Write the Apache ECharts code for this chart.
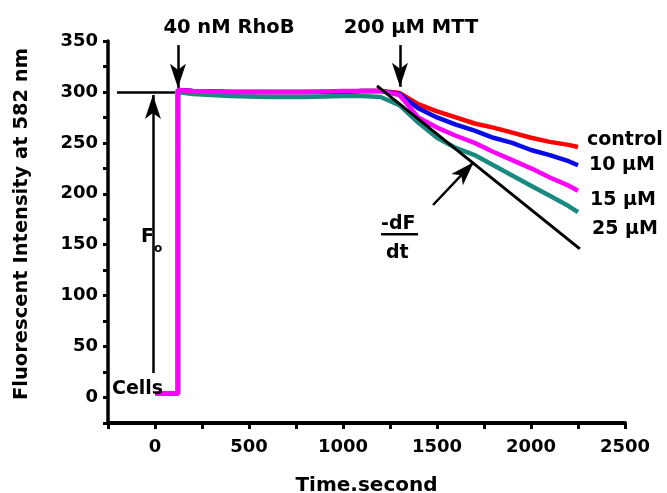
<!DOCTYPE html>
<html>
<head>
<meta charset="utf-8">
<script src="https://cdn.jsdelivr.net/npm/echarts@6.0.0/dist/echarts.min.js"></script>
<style>
html,body{margin:0;padding:0;background:#fff;}
#chart{width:667px;height:493px;}
</style>
</head>
<body>
<div id="chart"></div>
<script>
// ---- data ----
var timeSec = [0, 122, 122, 200, 400, 600, 800, 1000, 1100, 1200, 1300, 1400, 1500, 1600, 1700, 1800, 1900, 2000, 2100, 2200, 2250];
var controlVals = [4, 4, 302, 301, 300, 300, 300, 300, 301, 301, 299, 288, 281, 275, 269, 265, 260, 255, 251, 248, 246];
var uM10Vals    = [4, 4, 302, 301, 300, 300, 300, 300, 301, 301, 298, 284, 275, 268, 262, 255, 250, 243, 238, 232, 228];
var uM25Vals    = [4, 4, 300, 298, 296, 295, 295, 296, 296, 295, 287, 270, 255, 245, 238, 228, 218, 208, 198, 188, 182];
var uM15Vals    = [4, 4, 302, 301, 300, 300, 300, 301, 301, 301, 297, 275, 265, 257, 250, 241, 233, 225, 216, 208, 203];
var slopeX = [1181, 2260];
var slopeY = [306, 146];
var seriesNames = ['control', '10 µM', '25 µM', '15 µM'];
var xTicks = [0, 500, 1000, 1500, 2000, 2500];
var yTicks = [0, 50, 100, 150, 200, 250, 300, 350];
// annotation anchors (data coordinates)
var f0Line = [[-202, 300], [106, 300]];
var f0Arrow = [[-11, 24], [-11, 297]];
var rhoBArrow = [[122, 346], [122, 304]];
var mttArrow = [[1303, 346], [1303, 305]];
var slopeArrow = [[1479, 189], [1695, 231]];

function pairs(xs, ys) { return xs.map(function (x, i) { return [x, ys[i]]; }); }

var FONT = '"DejaVu Sans", "Liberation Sans", Arial, sans-serif';
var chart = echarts.init(document.getElementById('chart'), null, {renderer: 'canvas'});

function lineSeries(name, vals, color, z) {
  return {
    name: name, type: 'line', data: pairs(timeSec, vals), showSymbol: false, symbol: 'none',
    lineStyle: {color: color, width: 4.5}, itemStyle: {color: color}, z: z, silent: true
  };
}

function arrow(seg) {
  return [{coord: seg[0], symbol: 'none'}, {coord: seg[1], symbol: 'arrow', symbolSize: [12, 24]}];
}

var option = {
  animation: false,
  backgroundColor: '#ffffff',
  grid: {left: 108, right: 42, top: 41, bottom: 70, containLabel: false, outerBoundsMode: 'none'},
  xAxis: {
    type: 'value', min: -250, max: 2500, interval: 250,
    name: 'Time.second', nameLocation: 'middle', nameGap: 53,
    nameTextStyle: {fontFamily: FONT, fontWeight: 'bold', fontSize: 20, color: '#000'},
    axisLine: {onZero: false, lineStyle: {color: '#000', width: 4}},
    axisTick: {inside: false, length: 6, lineStyle: {color: '#000', width: 3}},
    axisLabel: {
      fontFamily: FONT, fontWeight: 'bold', fontSize: 18, color: '#000', margin: 15,
      formatter: function (v) { return xTicks.indexOf(v) >= 0 ? String(v) : ''; }
    },
    splitLine: {show: false}
  },
  yAxis: {
    type: 'value', min: -25, max: 350, interval: 25,
    axisLine: {onZero: false, lineStyle: {color: '#000', width: 3.5}},
    axisTick: {inside: false, length: 5, lineStyle: {color: '#000', width: 3}},
    axisLabel: {
      fontFamily: FONT, fontWeight: 'bold', fontSize: 18, color: '#000', margin: 10,
      formatter: function (v) { return yTicks.indexOf(v) >= 0 ? String(v) : ''; }
    },
    splitLine: {show: false}
  },
  series: [
    lineSeries(seriesNames[0], controlVals, '#ff0000', 2),
    lineSeries(seriesNames[1], uM10Vals, '#0a0ae6', 3),
    lineSeries(seriesNames[2], uM25Vals, '#1a8a80', 4),
    lineSeries(seriesNames[3], uM15Vals, '#ff00ff', 5),
    {
      name: 'slope', type: 'line', data: pairs(slopeX, slopeY), showSymbol: false, symbol: 'none',
      lineStyle: {color: '#000', width: 3}, z: 6, silent: true,
      markLine: {
        silent: true, animation: false,
        label: {show: false},
        lineStyle: {color: '#000', width: 2.5, type: 'solid'},
        symbol: ['none', 'arrow'],
        data: [
          [{coord: f0Line[0], symbol: 'none'}, {coord: f0Line[1], symbol: 'none'}],
          arrow(f0Arrow), arrow(rhoBArrow), arrow(mttArrow), arrow(slopeArrow)
        ]
      }
    }
  ],
  graphic: (function () {
    var tf = 'bold 19px ' + FONT;
    function t(x, y, txt, align, font) {
      return {type: 'text', x: x, y: y, silent: true, z: 100,
        style: {text: txt, font: font || tf, fill: '#000', textAlign: align || 'left', textVerticalAlign: 'middle'}};
    }
    var yTitle = t(22, 224, 'Fluorescent Intensity at 582 nm', 'center', 'bold 19.5px ' + FONT);
    yTitle.rotation = Math.PI / 2;
    return [
      yTitle,
      t(229, 28, '40 nM RhoB', 'center', 'bold 19.5px ' + FONT),
      t(411, 28, '200 µM MTT', 'center', 'bold 19.5px ' + FONT),
      t(587, 140, 'control', 'left', 'bold 19px ' + FONT),
      t(589, 165, '10 µM', 'left', 'bold 19px ' + FONT),
      t(590, 200, '15 µM', 'left', 'bold 19px ' + FONT),
      t(592, 229, '25 µM', 'left', 'bold 19px ' + FONT),
      t(381, 224, '-dF', 'left', 'bold 19px ' + FONT),
      {type: 'rect', shape: {x: 381, y: 233, width: 37, height: 2.5}, style: {fill: '#000'}, silent: true, z: 100},
      t(386, 253, 'dt', 'left', 'bold 19px ' + FONT),
      t(112, 389, 'Cells', 'left', 'bold 19px ' + FONT),
      t(141, 237, 'F', 'left', 'bold 19px ' + FONT),
      t(154, 249, 'o', 'left', 'bold 12px ' + FONT)
    ];
  })()
};
chart.setOption(option);
</script>
</body>
</html>
